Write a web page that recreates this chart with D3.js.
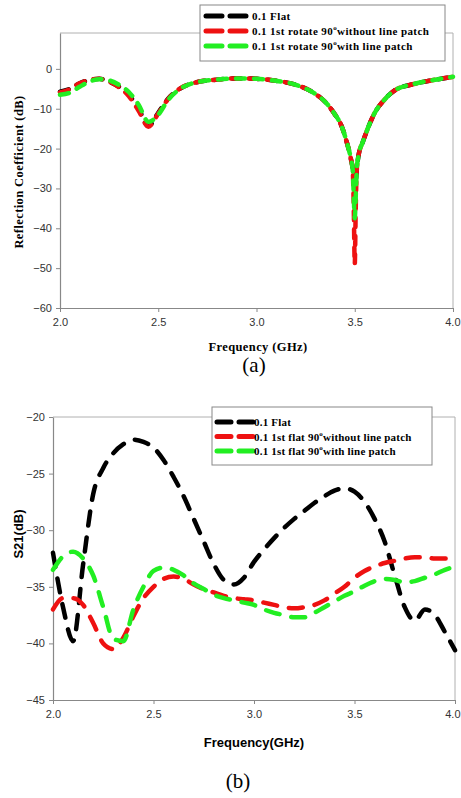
<!DOCTYPE html>
<html>
<head>
<meta charset="utf-8">
<script src="https://cdn.jsdelivr.net/npm/d3@7"></script>
<style>
body { margin: 0; background: #fff; }
</style>
</head>
<body>
<svg id="chart" width="461" height="798"></svg>
<script>
// ---- data, panel (a): reflection coefficient
const freqA = [2.0, 2.05, 2.1, 2.15, 2.2, 2.25, 2.3, 2.35, 2.4, 2.45, 2.5, 2.55, 2.6, 2.7, 2.8, 2.9, 3.0, 3.1, 3.2, 3.3,
               3.35, 3.4, 3.43, 3.46, 3.48, 3.49, 3.495, 3.5, 3.505, 3.51, 3.52, 3.54, 3.57, 3.6, 3.65, 3.7, 3.8, 3.9, 4.0];
const flatA = [-5.7, -5.0, -3.6, -2.8, -2.5, -3.2, -4.5, -6.5, -10.0, -14.3, -11.0, -7.5, -5.3, -3.3, -2.7, -2.4, -2.5, -3.0, -4.0, -6.3,
               -8.3, -11.5, -14.0, -18.5, -22.5, -25.5, -29, -34, -29, -25.5, -21.5, -18.5, -14.5, -11.2, -7.8, -5.5, -3.8, -2.8, -2.0];
const noPatchA = [-5.9, -5.1, -3.6, -2.8, -2.5, -3.2, -4.6, -6.8, -10.5, -14.5, -11.2, -7.6, -5.3, -3.3, -2.7, -2.4, -2.5, -3.0, -4.0, -6.3,
               -8.3, -11.5, -14.0, -18.5, -22.5, -25.5, -35, -49, -35, -25.5, -21.5, -18.5, -14.5, -11.2, -7.8, -5.5, -3.8, -2.8, -2.0];
const withPatchA = [-6.5, -6.0, -4.5, -3.2, -2.6, -2.9, -4.0, -5.8, -9.0, -13.3, -11.5, -7.8, -5.4, -3.3, -2.7, -2.4, -2.5, -3.0, -4.0, -6.3,
               -8.3, -11.5, -14.0, -18.5, -22.5, -25.5, -32, -37.5, -32, -25.5, -21.5, -18.5, -14.5, -11.2, -7.8, -5.5, -3.8, -2.8, -2.0];
const yTicksA = [-60, -50, -40, -30, -20, -10, 0];

// ---- data, panel (b): S21
const freqB = [2.0, 2.05, 2.1, 2.15, 2.2, 2.25, 2.3, 2.35, 2.4, 2.45, 2.5, 2.55, 2.6, 2.65, 2.7, 2.75, 2.8, 2.85, 2.9, 2.95, 3.0,
               3.05, 3.1, 3.15, 3.2, 3.25, 3.3, 3.35, 3.4, 3.45, 3.5, 3.55, 3.6, 3.65, 3.7, 3.75, 3.8, 3.85, 3.9, 3.95, 4.0];
const flatB = [-32.0, -36.8, -39.8, -33.0, -26.8, -24.5, -23.2, -22.4, -22.0, -22.2, -22.7, -23.8, -25.3, -27.0, -29.0, -31.0, -33.0, -34.4, -34.8, -34.2, -32.8,
               -31.7, -30.7, -29.8, -29.0, -28.3, -27.6, -27.0, -26.5, -26.3, -26.6, -27.5, -29.0, -31.0, -34.0, -36.8, -38.0, -37.0, -37.5, -39.0, -40.6];
const noPatchB = [-37.0, -36.0, -36.0, -36.6, -38.2, -40.0, -40.5, -39.5, -37.6, -36.0, -35.0, -34.3, -34.1, -34.3, -34.8, -35.2, -35.5, -35.8, -36.0, -36.1, -36.2,
               -36.4, -36.6, -36.8, -36.9, -36.8, -36.6, -36.2, -35.6, -35.0, -34.2, -33.6, -33.2, -32.9, -32.7, -32.5, -32.4, -32.4, -32.5, -32.5, -32.4];
const withPatchB = [-33.5, -32.3, -31.9, -32.5, -34.0, -36.8, -39.6, -39.8, -37.0, -35.0, -33.6, -33.3, -33.5, -34.0, -34.7, -35.2, -35.7, -36.0, -36.2, -36.4, -36.6,
               -37.0, -37.3, -37.5, -37.7, -37.7, -37.3, -36.8, -36.3, -35.8, -35.4, -34.9, -34.5, -34.3, -34.4, -34.6, -34.5, -34.2, -33.9, -33.5, -33.2];
const yTicksB = [-45, -40, -35, -30, -25, -20];

const xTicks = [2.0, 2.5, 3.0, 3.5, 4.0];
const seriesColors = ["#000000", "#ee1111", "#22ee22"];

const legendA = [
    { pre: "0.1 Flat", sup: "", post: "" },
    { pre: "0.1 1st rotate 90", sup: "o", post: "without line patch" },
    { pre: "0.1 1st rotate 90", sup: "o", post: "with line patch" }
];
const legendB = [
    { pre: "0.1 Flat", sup: "", post: "" },
    { pre: "0.1 1st flat 90", sup: "o", post: "without line patch" },
    { pre: "0.1 1st flat 90", sup: "o", post: "with line patch" }
];

const svg = d3.select("#chart");
const serif = "'Liberation Serif', 'DejaVu Serif', serif";
const sans = "'Liberation Sans', Arial, sans-serif";

/*
 *  Draw one panel.
 */
function drawPanel(cfg) {
    const g = svg.append("g");

    const x = d3.scaleLinear().domain([2, 4]).range([cfg.left, cfg.right]);
    const y = d3.scaleLinear().domain(cfg.yDomain).range([cfg.bottom, cfg.top]);

    // light frame on top and right
    g.append("path")
    .attr("d", "M" + cfg.left + "," + cfg.top + "H" + cfg.right + "V" + cfg.bottom)
    .attr("fill", "none")
    .attr("stroke", "#b0b0b0")
    .attr("stroke-width", 1);

    let xAxis = g.append("g")
    .attr("transform", "translate(0," + cfg.bottom + ")")
    .call(d3.axisBottom(x).tickValues(xTicks).tickFormat(d3.format(".1f")).tickSizeInner(4).tickSizeOuter(0).tickPadding(6));

    let yAxis = g.append("g")
    .attr("transform", "translate(" + cfg.left + ",0)")
    .call(d3.axisLeft(y).tickValues(cfg.yTicks).tickSizeInner(4).tickSizeOuter(0).tickPadding(4));

    [xAxis, yAxis].forEach(function(a) {
        a.selectAll(".domain").attr("stroke", "#888").attr("stroke-width", 1.2);
        a.selectAll(".tick line").attr("stroke", "#888");
        a.selectAll("text").attr("fill", "#333").style("font-family", sans).style("font-size", "11px");
    });

    // keep the last x label inside the page
    xAxis.selectAll(".tick text").filter(function(d) { return x(d) + 9 > 461; })
    .attr("text-anchor", "end").attr("dx", 460 - cfg.right + "px").attr("x", 0);

    const line = d3.line().curve(d3.curveMonotoneX);

    cfg.series.forEach(function(vals, i) {
        g.append("path")
        .attr("d", line(cfg.freq.map(function(f, j) { return [x(f), y(vals[j])]; })))
        .attr("fill", "none")
        .attr("stroke", seriesColors[i])
        .attr("stroke-width", cfg.lineWidth)
        .attr("stroke-linecap", "round")
        .attr("stroke-dasharray", cfg.dash);
    });

    // legend
    const lg = cfg.legend;
    g.append("rect")
    .attr("x", lg.x).attr("y", lg.y).attr("width", lg.w).attr("height", lg.h)
    .attr("fill", "#fff").attr("stroke", "#888").attr("stroke-width", 1);

    cfg.labels.forEach(function(lab, i) {
        let ly = lg.y + lg.first + i * lg.step;
        g.append("path")
        .attr("d", "M" + lg.sx0 + "," + ly + "H" + lg.sx1)
        .attr("stroke", seriesColors[i])
        .attr("stroke-width", 5)
        .attr("stroke-linecap", "round")
        .attr("stroke-dasharray", lg.dash);

        let t = g.append("text")
        .attr("x", lg.tx).attr("y", ly + 4)
        .style("font-family", serif).style("font-weight", "bold")
        .style("font-size", lg.font + "px").style("letter-spacing", lg.spacing + "px");
        t.append("tspan").text(lab.pre);
        if(lab.sup !== "") {
            t.append("tspan").attr("dy", -5).style("font-size", "7px").text(lab.sup);
            t.append("tspan").attr("dy", 5).text(lab.post);
        }
    });

    // axis titles
    g.append("text")
    .attr("x", (cfg.left + cfg.right) / 2 + cfg.xTitleShift).attr("y", cfg.xTitleY)
    .attr("text-anchor", "middle")
    .style("font-family", cfg.titleFont).style("font-weight", "bold").style("font-size", cfg.titleSize + "px")
    .style("letter-spacing", cfg.titleSpacing + "px")
    .text(cfg.xTitle);

    g.append("text")
    .attr("transform", "translate(" + cfg.yTitleX + "," + cfg.yTitleY + ") rotate(-90)")
    .attr("text-anchor", "middle")
    .style("font-family", cfg.titleFont).style("font-weight", "bold").style("font-size", cfg.titleSize + "px")
    .style("letter-spacing", cfg.titleSpacing + "px")
    .text(cfg.yTitle);

    g.append("text")
    .attr("x", cfg.captionX).attr("y", cfg.captionY)
    .attr("text-anchor", "middle")
    .style("font-family", serif).style("font-size", "21px")
    .text(cfg.caption);
}

drawPanel({
    left: 60, right: 453, top: 33, bottom: 308,
    yDomain: [-60, 9], yTicks: yTicksA,
    freq: freqA, series: [flatA, noPatchA, withPatchA],
    lineWidth: 4.5, dash: "9,9",
    labels: legendA,
    legend: { x: 200, y: 5, w: 245, h: 56, first: 11, step: 15, sx0: 206, sx1: 248, dash: "16,8", tx: 252, font: 11, spacing: 0.4 },
    xTitle: "Frequency (GHz)", xTitleY: 351, xTitleShift: 1.5,
    yTitle: "Reflection Coefficient (dB)", yTitleX: 23, yTitleY: 172,
    titleFont: serif, titleSize: 12.5, titleSpacing: 0.4,
    caption: "(a)", captionX: 254, captionY: 372
});

drawPanel({
    left: 53, right: 455, top: 417, bottom: 700,
    yDomain: [-45, -20], yTicks: yTicksB,
    freq: freqB, series: [flatB, noPatchB, withPatchB],
    lineWidth: 4.5, dash: "14,12",
    labels: legendB,
    legend: { x: 212, y: 407, w: 220, h: 58, first: 15, step: 14.5, sx0: 217, sx1: 254, dash: "14,8", tx: 254, font: 11, spacing: 0.2 },
    xTitle: "Frequency(GHz)", xTitleY: 747, xTitleShift: 0,
    yTitle: "S21(dB)", yTitleX: 23, yTitleY: 534,
    titleFont: sans, titleSize: 13, titleSpacing: 0,
    caption: "(b)", captionX: 238, captionY: 788
});
</script>
</body>
</html>
